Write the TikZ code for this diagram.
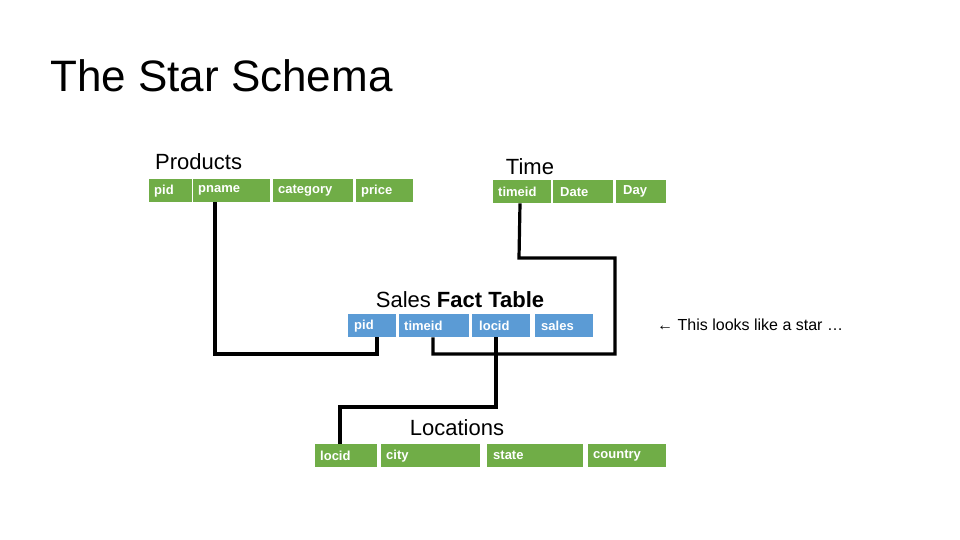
\documentclass[tikz,border=0pt]{standalone}
\usepackage{fontspec}
\setmainfont{Liberation Sans}
\definecolor{gr}{RGB}{112,173,71}
\definecolor{bl}{RGB}{91,155,213}
\begin{document}
\begin{tikzpicture}[x=1pt,y=-1pt,
 cell/.style={anchor=north west,inner xsep=5pt,inner ysep=0pt,minimum height=23pt,text=white,font=\fontsize{13}{13}\selectfont\bfseries,align=left,text width=#1},
 gcell/.style={cell=#1,fill=gr},
 bcell/.style={cell=#1,fill=bl},
 ttl/.style={font=\fontsize{22}{22}\selectfont,inner sep=0pt},
 link/.style={line width=3.2pt,line join=miter}]
\useasboundingbox (0,0) rectangle (960,540);
\node[anchor=west,inner sep=0pt,font=\fontsize{44}{44}\selectfont] (title) at (50,76) {The Star Schema};
% Products
\node[ttl,anchor=west] (ptl) at (155,162) {Products};
\node[gcell=33pt] (ppid) at (149,179) {pid};
\node[gcell=67pt] (pname) at (193,179) {pname};
\node[gcell=70pt] (pcat) at (273,179) {category};
\node[gcell=47pt] (pprice) at (356,179) {price};
% Time
\node[ttl] (ttl) at (530,167) {Time};
\node[gcell=48pt] (tid) at (493,180) {timeid};
\node[gcell=50pt] (tdate) at (553,180) {\hspace{2pt}Date};
\node[gcell=40pt] (tday) at (616,180) {\hspace{2pt}Day};
% Sales
\node[ttl] (stl) at (460,300) {Sales \textbf{Fact Table}};
\node[bcell=38pt] (spid) at (348,314) {\hspace{1pt}pid};
\node[bcell=60pt] (stid) at (399,314) {timeid};
\node[bcell=48pt] (sloc) at (472,314) {\hspace{2pt}locid};
\node[bcell=48pt] (ssales) at (535,314) {\hspace{1pt}sales};
\node[anchor=west,inner sep=0pt,font=\fontsize{16}{16}\selectfont] (note) at (657,325) {← This looks like a star …};
% Locations
\node[ttl] (ltl) at (457,428) {Locations};
\node[gcell=52pt] (lid) at (315,444) {locid};
\node[gcell=89pt] (lcity) at (381,444) {city};
\node[gcell=86pt] (lstate) at (487,444) {\hspace{1pt}state};
\node[gcell=68pt] (lcountry) at (588,444) {country};
% links
\coordinate (a1) at (215,354);
\coordinate (a2) at (377,354);
\draw[link] ([xshift=22pt]pname.south west) -- (a1) -- (a2) -- ([xshift=29pt]spid.south west);
\coordinate (b1) at (519,258);
\coordinate (b2) at (615,258);
\coordinate (b3) at (615,354);
\coordinate (b4) at (433,354);
\draw[link] ([xshift=27pt]tid.south west) -- (b1) -- (b2) -- (b3) -- (b4) -- ([xshift=34pt]stid.south west);
\coordinate (c1) at (496,407);
\coordinate (c2) at (340,407);
\draw[link] ([xshift=24pt]sloc.south west) -- (c1) -- (c2) -- ([xshift=25pt]lid.north west);
\end{tikzpicture}
\end{document}
